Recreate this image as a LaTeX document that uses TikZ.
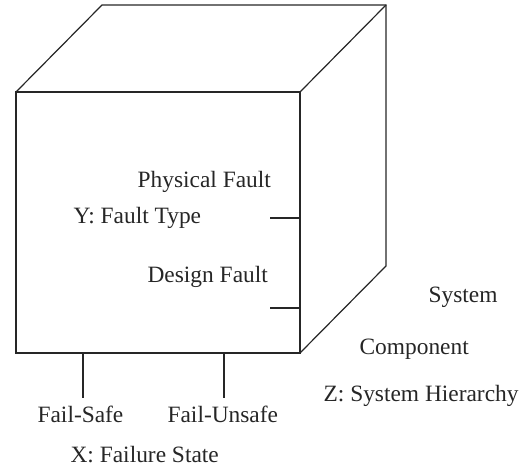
\documentclass[tikz,border=0pt]{standalone}
\usepackage{fontspec}
\setmainfont{Liberation Serif}
\usetikzlibrary{calc}

\begin{document}
\begin{tikzpicture} [x=.5pt,y=-.5pt,line width=.6pt,
  lbl/.style={anchor=base west, inner sep=0pt, font=\fontsize{11.7}{14}\selectfont, text=black!85}]
\useasboundingbox (0,0) rectangle (527,470);

% front face and depth offset
\coordinate (fa) at (16,92);
\coordinate (fb) at (300,92);
\coordinate (fc) at (300,353);
\coordinate (fd) at (16,353);
\coordinate (dp) at (86,-87);

\draw[black!85] (fa) -- (fb) -- (fc) -- (fd) -- cycle;
\draw[black!85] (fa) -- ($(fa)+(dp)$) -- ($(fb)+(dp)$) -- ($(fc)+(dp)$) -- (fc);
\draw[black!85] (fb) -- ($(fb)+(dp)$);

% ticks on the right edge (fault type) and on the bottom edge (failure state)
\foreach \y [count=\i] in {218,308} {
  \coordinate (ry\i) at (300,\y);
  \coordinate (rt\i) at (270,\y);
  \draw[black!85] (ry\i) -- (rt\i);
}
\foreach \x [count=\i] in {83,224} {
  \coordinate (bx\i) at (\x,353);
  \coordinate (bt\i) at (\x,398);
  \draw[black!85] (bx\i) -- (bt\i);
}

% labels
\node[lbl] (phys) at (137,188) {Physical Fault};
\node[lbl] (ytyp) at (73,224) {Y: Fault Type};
\node[lbl] (desg) at (147,283) {Design Fault};
\node[lbl] (syst) at (428,303) {System};
\node[lbl] (comp) at (359,355) {Component};
\node[lbl] (zhie) at (323,402) {Z: System Hierarchy};
\node[lbl] (fsaf) at (37,423) {Fail-Safe};
\node[lbl] (funs) at (167,423) {Fail-Unsafe};
\node[lbl] (xsta) at (70,463) {X: Failure State};
\end{tikzpicture}
\end{document}
